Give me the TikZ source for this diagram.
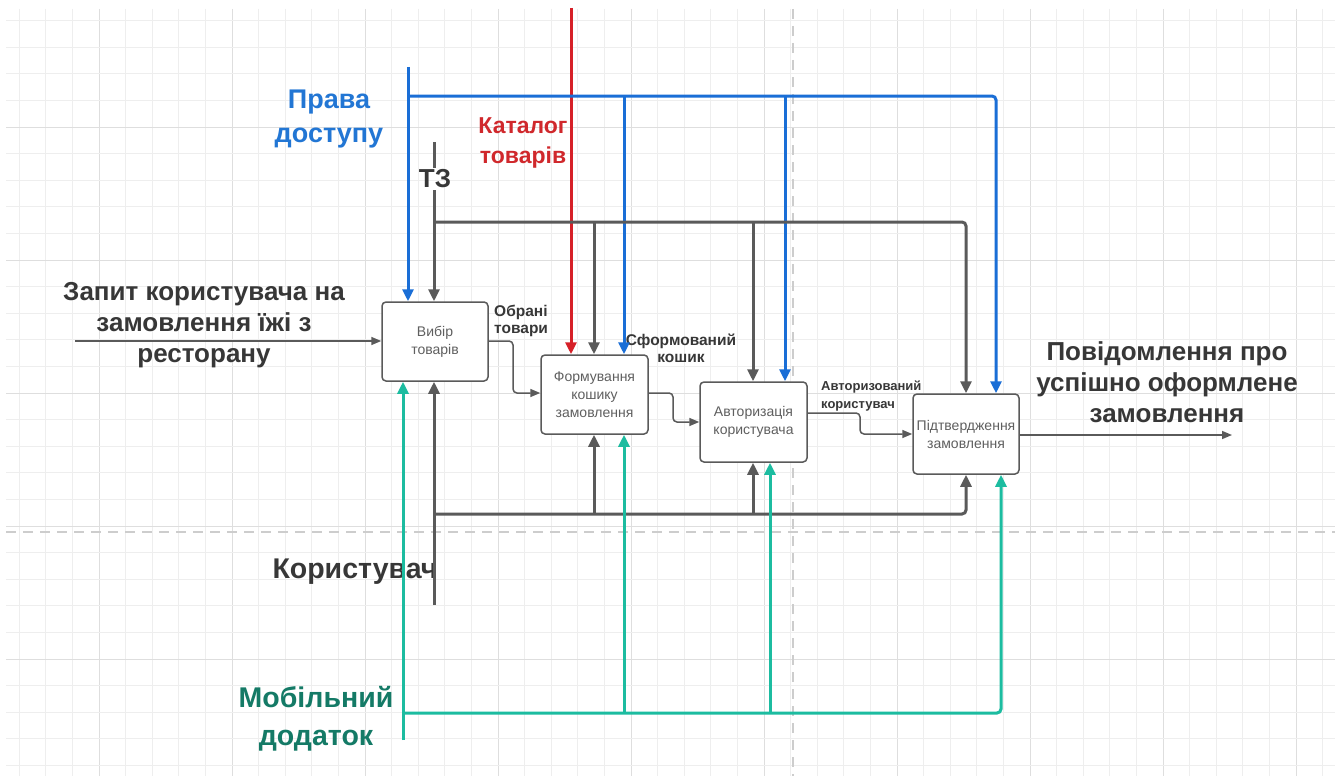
\documentclass[tikz,border=0pt]{standalone}
\usepackage{fontspec}
\setmainfont{Liberation Sans}
\usetikzlibrary{arrows.meta,calc}
\definecolor{gminor}{RGB}{238,238,238}
\definecolor{gmajor}{RGB}{222,222,222}
\definecolor{gdash}{RGB}{205,205,205}
\definecolor{dk}{RGB}{90,90,90}
\definecolor{txt}{RGB}{55,55,55}
\definecolor{boxtxt}{RGB}{95,95,95}
\definecolor{blu}{RGB}{26,110,214}
\definecolor{blutxt}{RGB}{34,118,212}
\definecolor{rd}{RGB}{214,32,40}
\definecolor{rdtxt}{RGB}{208,40,44}
\definecolor{tl}{RGB}{28,188,160}
\definecolor{tltxt}{RGB}{20,122,102}
\tikzset{
  proc/.style={draw=dk,line width=1.5pt,rounded corners=4pt,fill=white,
    minimum width=106pt,minimum height=79pt,align=center,text=boxtxt,
    font=\fontsize{14}{18}\selectfont,inner sep=1pt},
  thick arr/.style={-{Triangle[length=12pt,width=11pt]}},
  thin arr/.style={-{Triangle[length=10pt,width=8pt]}},
  grayline/.style={draw=dk,line width=3pt},
  blueline/.style={draw=blu,line width=3pt},
  redline/.style={draw=rd,line width=3pt},
  tealline/.style={draw=tl,line width=3pt},
  flow/.style={draw=dk,line width=1.5pt,rounded corners=4pt},
  smalllbl/.style={font=\bfseries\fontsize{15.5}{17}\selectfont,text=txt,inner sep=0pt},
  biglbl/.style={font=\bfseries\fontsize{26}{31}\selectfont,text=txt,align=center,inner sep=0pt}
}
\begin{document}
\begin{tikzpicture}[x=1pt,y=-1pt]
\useasboundingbox (0,0) rectangle (1335,776);
\fill[white] (0,0) rectangle (1335,776);
% grid
\foreach \k in {-3,...,46}{
  \pgfmathsetmacro{\xx}{99+26.6*\k}
  \pgfmathtruncatemacro{\mm}{mod(\k+100,5)}
  \ifnum\mm=0
    \draw[gmajor,line width=1pt] (\xx,9) -- (\xx,776);
  \else
    \draw[gminor,line width=1pt] (\xx,9) -- (\xx,776);
  \fi
}
\foreach \k in {-4,...,24}{
  \pgfmathsetmacro{\yy}{127+26.6*\k}
  \pgfmathtruncatemacro{\mm}{mod(\k+100,5)}
  \ifnum\mm=0
    \draw[gmajor,line width=1pt] (6,\yy) -- (1335,\yy);
  \else
    \draw[gminor,line width=1pt] (6,\yy) -- (1335,\yy);
  \fi
}
\draw[gdash,line width=2pt,dash pattern=on 10pt off 7pt] (6,532) -- (1335,532);
\draw[gdash,line width=2pt,dash pattern=on 10pt off 7pt] (793,9) -- (793,776);

% boxes
\node[proc] (b1) at (435,341.5) {Вибір\\товарів};
\node[proc,minimum width=107pt] (b2) at (594.5,394.5) {Формування\\кошику\\замовлення};
\node[proc,minimum width=107pt,minimum height=80pt] (b3) at (753.5,422) {Авторизація\\користувача};
\node[proc,minimum height=80pt] (b4) at (966,434) {Підтвердження\\замовлення};

% labels
\node[biglbl] (inlbl) at (204,325) {Запит користувача на\\замовлення їжі з\\ресторану};
\node[biglbl] (outlbl) at (1167,382) {Повідомлення про\\успішно оформлене\\замовлення};
\node[biglbl,text=blutxt,font=\bfseries\fontsize{27}{34}\selectfont] (prlbl) at (329,119) {Права\\доступу};
\node[biglbl,text=rdtxt,font=\bfseries\fontsize{23}{30}\selectfont] (ktlbl) at (523,143) {Каталог\\товарів};
\node[biglbl,font=\bfseries\fontsize{26}{30}\selectfont] (tz) at (435,179) {ТЗ};
\node[biglbl,font=\bfseries\fontsize{28.5}{32}\selectfont] (kor) at (355,572) {Користувач};
\node[biglbl,text=tltxt,font=\bfseries\fontsize{28.5}{38}\selectfont] (mob) at (316,719) {Мобільний\\додаток};
\node[smalllbl,align=left,anchor=west] (l1) at (494,320.5) {Обрані\\товари};
\node[smalllbl,align=center] (l2) at (681,348.5) {Сформований\\кошик};
\node[smalllbl,align=left,anchor=west,font=\bfseries\fontsize{13}{18}\selectfont] (l3) at (821,396) {Авторизований\\користувач};

% coordinates
\coordinate (in0) at (75,341);
\coordinate (out1) at (1232,435);
\coordinate (f1) at (513,341);
\coordinate (f2) at (673,393);
\coordinate (f3) at (860,413);

% input / output / inter-box flows
\draw[flow,thin arr] (in0) -- (in0 -| b1.west);
\draw[flow,thin arr] (b4.east |- out1) -- (out1);
\draw[flow,thin arr] (b1.east |- f1) -- (f1) |- ($(b2.west)+(0,-1.5)$);
\draw[flow,thin arr] (b2.east |- f2) -- (f2) |- (b3.west);
\draw[flow,thin arr] (b3.east |- f3) -- (f3) |- (b4.west);

% red control
\coordinate (rd0) at (571,8);
\draw[redline,thick arr] (rd0) -- (rd0 |- b2.north);

% blue control
\coordinate (bl0) at (408,67);
\coordinate (bl1) at (408,96);
\coordinate (bl2) at (624,96);
\coordinate (bl3) at (785,96);
\coordinate (bl4) at (996,96);
\draw[blueline,thick arr] (bl0) -- (bl0 |- b1.north);
\draw[blueline,thick arr,rounded corners=4pt] (bl1) -- (bl4) -- (bl4 |- b4.north);
\draw[blueline,thick arr] (bl2) -- (bl2 |- b2.north);
\draw[blueline,thick arr] (bl3) -- (bl3 |- b3.north);

% grey mechanism top (ТЗ)
\coordinate (tz0) at (434,142);
\coordinate (tz1) at (434,222);
\coordinate (tz2) at (594,222);
\coordinate (tz3) at (753,222);
\coordinate (tz4) at (966,222);
\draw[grayline] (tz0) -- ($(tz0 |- tz.north)+(0,-2)$);
\draw[grayline,thick arr] ($(tz.south -| tz0)+(0,2)$) -- (tz0 |- b1.north);
\draw[grayline,thick arr,rounded corners=4pt] (tz1) -- (tz4) -- (tz4 |- b4.north);
\draw[grayline,thick arr] (tz2) -- (tz2 |- b2.north);
\draw[grayline,thick arr] (tz3) -- (tz3 |- b3.north);

% grey mechanism bottom (Користувач)
\coordinate (ku0) at (434,605);
\coordinate (ku1) at (434,514);
\coordinate (ku2) at (594,514);
\coordinate (ku3) at (753,514);
\coordinate (ku4) at (966,514);
\draw[grayline,thick arr] (ku0) -- (ku0 |- b1.south);
\draw[grayline,thick arr,rounded corners=4pt] (ku1) -- (ku4) -- (ku4 |- b4.south);
\draw[grayline,thick arr] (ku2) -- (ku2 |- b2.south);
\draw[grayline,thick arr] (ku3) -- (ku3 |- b3.south);

% teal mechanism (Мобільний додаток)
\coordinate (mo0) at (403,740);
\coordinate (mo1) at (403,713);
\coordinate (mo2) at (624,713);
\coordinate (mo3) at (770,713);
\coordinate (mo4) at (1001,713);
\draw[tealline,thick arr] (mo0) -- (mo0 |- b1.south);
\draw[tealline,thick arr,rounded corners=4pt] (mo1) -- (mo4) -- (mo4 |- b4.south);
\draw[tealline,thick arr] (mo2) -- (mo2 |- b2.south);
\draw[tealline,thick arr] (mo3) -- (mo3 |- b3.south);
\end{tikzpicture}
\end{document}
